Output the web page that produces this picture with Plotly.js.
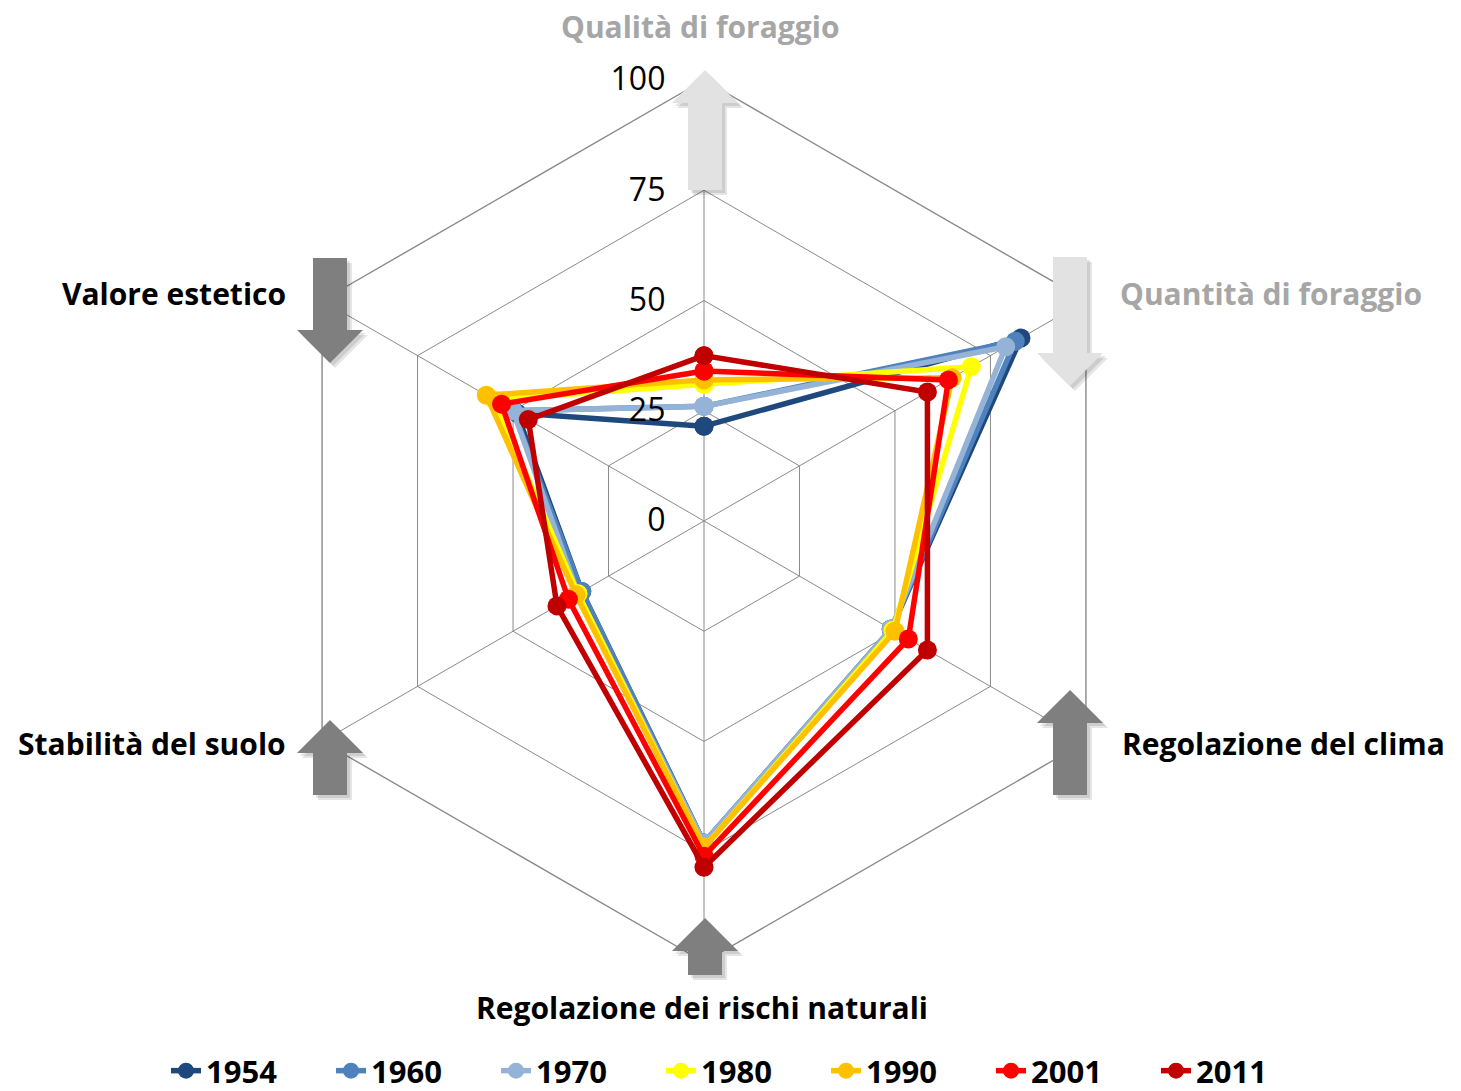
<!DOCTYPE html>
<html>
<head>
<meta charset="utf-8">
<script src="https://cdn.plot.ly/plotly-3.0.1.min.js"></script>
<style>html,body{margin:0;padding:0;background:#fff;}#chart{width:1461px;height:1091px;}</style>
</head>
<body>
<div id="chart"></div>
<script>
// ---- Data ----
const categories = ["Qualità di foraggio", "Quantità di foraggio", "Regolazione del clima",
  "Regolazione dei rischi naturali", "Stabilità del suolo", "Valore estetico"];
const years = ["1954", "1960", "1970", "1980", "1990", "2001", "2011"];
const v1954 = [21.5, 83, 49, 73, 32, 49];
const v1960 = [26, 81.5, 49, 73, 32, 50];
const v1970 = [26, 79, 49, 73, 33, 50];
const v1980 = [31, 70, 49.5, 74, 33, 55];
const v1990 = [32, 65, 50, 74, 33.5, 57];
const v2001 = [34, 64, 53.5, 76, 35.5, 53];
const v2011 = [37.5, 58.5, 58.5, 78.5, 38.5, 46];
const seriesValues = [v1954, v1960, v1970, v1980, v1990, v2001, v2011];
const radialTicks = [0, 25, 50, 75, 100];

// ---- Styles ----
const colors = ["#1f497d", "#4f81bd", "#95b3d7", "#ffff00", "#ffc000", "#ff0000", "#c00000"];
const labelColors = ["#a6a6a6", "#a6a6a6", "#000000", "#000000", "#000000", "#000000"];

const W = 1461, H = 1091;
const px = x => x / W;
const py = y => 1 - y / H;

const traces = years.map((yr, i) => ({
  type: "scatterpolar",
  name: yr,
  r: seriesValues[i].concat([seriesValues[i][0]]),
  theta: categories.concat([categories[0]]),
  mode: "lines+markers",
  line: {color: colors[i], width: 5.5},
  marker: {color: colors[i], size: 19},
  hoverinfo: "name+r+theta"
}));

// label placement (text positions around the radar)
const labelPos = [
  {x: 700, y: 27, xa: "center"},
  {x: 1118, y: 293, xa: "left"},
  {x: 1120, y: 743, xa: "left"},
  {x: 702, y: 1007, xa: "center"},
  {x: 288, y: 743, xa: "right"},
  {x: 288, y: 293, xa: "right"}
];
const annotations = categories.map((c, i) => ({
  xref: "paper", yref: "paper",
  x: px(labelPos[i].x), y: py(labelPos[i].y),
  xanchor: labelPos[i].xa, yanchor: "middle",
  text: "<b>" + c + "</b>",
  showarrow: false,
  font: {family: "Open Sans, sans-serif", size: 30, color: labelColors[i]}
}));

// decorative block arrows
const arrows = [
  {cx: 705, tip: 70, end: 190, up: true, color: "#e2e2e2"},
  {cx: 1070, tip: 386, end: 257, up: false, color: "#e2e2e2"},
  {cx: 330, tip: 363, end: 258, up: false, color: "#7f7f7f"},
  {cx: 1070, tip: 690, end: 795, up: true, color: "#7f7f7f"},
  {cx: 330, tip: 720, end: 795, up: true, color: "#7f7f7f"},
  {cx: 705, tip: 918, end: 975, up: true, color: "#7f7f7f"}
];
function arrowPath(a, dx, dy) {
  const hh = 33, sh = 17, hl = 33;
  const s = a.up ? 1 : -1;
  const base = a.tip + s * hl;
  const pts = [
    [a.cx, a.tip], [a.cx + hh, base], [a.cx + sh, base], [a.cx + sh, a.end],
    [a.cx - sh, a.end], [a.cx - sh, base], [a.cx - hh, base]
  ];
  return "M" + pts.map(p => px(p[0] + dx).toFixed(5) + "," + py(p[1] + dy).toFixed(5)).join(" L") + " Z";
}
const shapes = [];
arrows.forEach(a => {
  shapes.push({type: "path", xref: "paper", yref: "paper", path: arrowPath(a, 5, 5),
    fillcolor: "rgba(0,0,0,0.10)", line: {width: 0}, layer: "above"});
  shapes.push({type: "path", xref: "paper", yref: "paper", path: arrowPath(a, 3, 3),
    fillcolor: "rgba(0,0,0,0.10)", line: {width: 0}, layer: "above"});
  shapes.push({type: "path", xref: "paper", yref: "paper", path: arrowPath(a, 0, 0),
    fillcolor: a.color, line: {width: 0}, layer: "above"});
});

const gridColor = "#8a8a8a";
const pad = "\u00a0\u00a0\u00a0\u00a0";
const layout = {
  width: W, height: H,
  margin: {l: 0, r: 0, t: 0, b: 0, autoexpand: false},
  paper_bgcolor: "#ffffff",
  showlegend: true,
  polar: {
    domain: {x: [px(263), px(1145)], y: [py(962), py(80)]},
    bgcolor: "rgba(0,0,0,0)",
    gridshape: "linear",
    radialaxis: {
      range: [0, 100],
      tickvals: radialTicks,
      ticktext: radialTicks.map(t => String(t) + pad),
      angle: 90,
      side: "counterclockwise",
      tickangle: 90,
      showline: false,
      ticks: "",
      gridcolor: gridColor, gridwidth: 1.4,
      tickfont: {family: "Open Sans, sans-serif", size: 32, color: "#000"}
    },
    angularaxis: {
      rotation: 90,
      direction: "clockwise",
      showticklabels: false,
      ticks: "",
      showline: true,
      linecolor: gridColor, linewidth: 1.4,
      gridcolor: gridColor, gridwidth: 1.4
    }
  },
  legend: {
    orientation: "h",
    x: px(166), xanchor: "left",
    y: py(1071), yanchor: "middle",
    entrywidth: 120,
    font: {family: "Open Sans, sans-serif", size: 31, color: "#000", weight: "bold"},
    bgcolor: "rgba(0,0,0,0)"
  },
  annotations: annotations,
  shapes: shapes
};

Plotly.newPlot("chart", traces, layout, {displayModeBar: false});
</script>
</body>
</html>
